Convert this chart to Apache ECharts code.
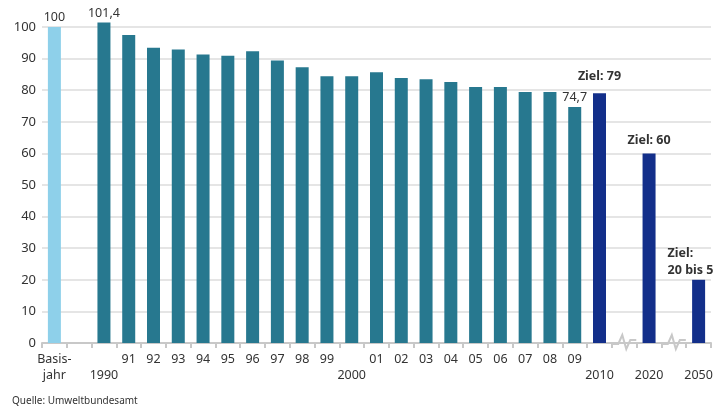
<!DOCTYPE html>
<html lang="de">
<head>
    <meta charset="UTF-8">
    <script src="https://cdnjs.cloudflare.com/ajax/libs/echarts/6.0.0/echarts.min.js"></script>
    <style>
        body { margin: 0; background: #fff; }
        #chart { width: 717px; height: 407px; }
    </style>
</head>
<body>
    <div id="chart"></div>
    <script type="text/javascript">
        // Kategorien (eine Spalte je Jahr, Lücken für die Achsenbrüche)
        var categories = ['Basisjahr', 'gap0', '1990', '1991', '1992', '1993', '1994', '1995', '1996', '1997',
            '1998', '1999', '2000', '2001', '2002', '2003', '2004', '2005', '2006', '2007', '2008', '2009',
            '2010', 'gap1', '2020', 'gap2', '2050'];
        var tickLabels = ['Basis-\njahr', '', '\n1990', '91', '92', '93', '94', '95', '96', '97',
            '98', '99', '\n2000', '01', '02', '03', '04', '05', '06', '07', '08', '09',
            '\n2010', '', '\n2020', '', '\n2050'];
        // Emissionen, Basisjahr = 100
        var values = [100, null, 101.4, 97.5, 93.4, 92.9, 91.3, 90.9, 92.3, 89.4,
            87.3, 84.4, 84.4, 85.7, 83.9, 83.5, 82.6, 81.0, 81.0, 79.4, 79.4, 74.7,
            79, null, 60, null, 20];
        // Art der Säule: basis, ist, ziel
        var kinds = ['basis', '', 'ist', 'ist', 'ist', 'ist', 'ist', 'ist', 'ist', 'ist',
            'ist', 'ist', 'ist', 'ist', 'ist', 'ist', 'ist', 'ist', 'ist', 'ist', 'ist', 'ist',
            'ziel', '', 'ziel', '', 'ziel'];
        var barLabels = ['100', '', '101,4', '', '', '', '', '', '', '',
            '', '', '', '', '', '', '', '', '', '', '', '74,7',
            'Ziel: 79', '', 'Ziel: 60', '', 'Ziel:\n20 bis 5'];
        var yTicks = [0, 10, 20, 30, 40, 50, 60, 70, 80, 90, 100];

        var colors = { basis: '#8ed0ea', ist: '#27788f', ziel: '#132f8a' };
        var font = 'Noto Sans';
        var zielDistance = { 22: 8, 24: 4, 26: 1 };

        var seriesData = values.map(function (v, i) {
            if (v === null) return null;
            var item = { value: v, itemStyle: { color: colors[kinds[i]] } };
            var lbl = { show: !!barLabels[i], formatter: barLabels[i], position: 'top', distance: 3,
                color: '#333', fontFamily: font, fontSize: 12.5 };
            if (kinds[i] === 'ziel') {
                lbl.fontWeight = 'bold';
                lbl.distance = zielDistance[i];
                lbl.lineHeight = 17;
            }
            if (i === values.length - 1) {
                lbl.align = 'left';
                lbl.offset = [-31, 0];
            }
            item.label = lbl;
            return item;
        });

        var chart = echarts.init(document.getElementById('chart'));
        var option = {
            animation: false,
            grid: { left: 42, right: 6, top: 27, bottom: 64 },
            xAxis: {
                type: 'category',
                data: categories,
                axisLine: { lineStyle: { color: '#c8c8c8', width: 2 } },
                axisTick: { show: true, length: 5, lineStyle: { color: '#c8c8c8', width: 2 } },
                axisLabel: {
                    interval: 0,
                    margin: 8,
                    color: '#333',
                    fontFamily: font,
                    fontSize: 12.5,
                    lineHeight: 16,
                    formatter: function (val, idx) { return tickLabels[idx]; }
                }
            },
            yAxis: {
                type: 'value',
                min: 0,
                max: 100,
                interval: 10,
                axisLine: { show: false },
                axisTick: { show: false },
                axisLabel: {
                    margin: 6, color: '#333', fontFamily: font, fontSize: 13,
                    formatter: function (v) { return yTicks.indexOf(v) >= 0 ? String(v) : ''; }
                },
                splitLine: { lineStyle: { color: '#dcdcdc', width: 1.5 } }
            },
            series: [{
                type: 'bar',
                data: seriesData,
                barWidth: 13,
                clip: false
            }],
            graphic: []
        };
        chart.setOption(option);

        // kleine Zickzack-Markierungen für die Achsenbrüche
        var zig = [];
        ['gap1', 'gap2'].forEach(function (name) {
            var p = chart.convertToPixel({ xAxisIndex: 0, yAxisIndex: 0 }, [name, 0]);
            var x = p[0], y = p[1];
            zig.push({
                type: 'polyline',
                shape: { points: [[x - 12, y + 1], [x - 6, y + 1], [x - 2, y - 8], [x + 2, y + 6], [x + 6, y - 3], [x + 12, y - 3]] },
                style: { stroke: '#c8c8c8', lineWidth: 2, fill: null }
            });
        });
        zig.push({
            type: 'text', left: 12, top: 396,
            style: { text: 'Quelle: Umweltbundesamt', fill: '#333', font: '10px "Noto Sans"' }
        });
        chart.setOption({ graphic: zig });
    </script>
</body>
</html>
